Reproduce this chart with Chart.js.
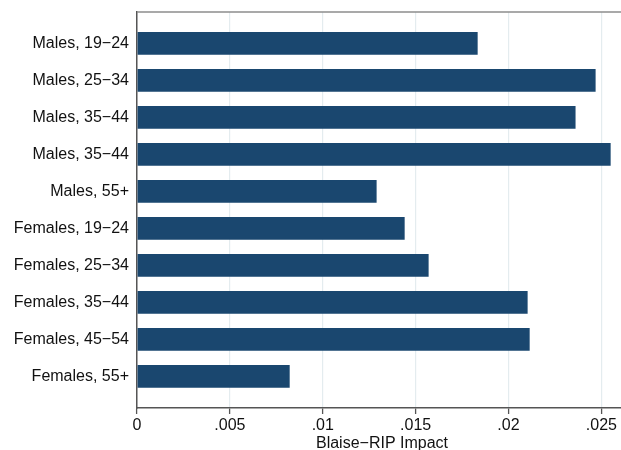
<!DOCTYPE html>
<html>
<head>
<meta charset="utf-8">
<script src="https://cdn.jsdelivr.net/npm/chart.js@4"></script>
<style>
  html, body { margin: 0; padding: 0; overflow: hidden; background: #ffffff; }
  canvas { display: block; }
</style>
</head>
<body>
<canvas id="chart" width="627" height="450"></canvas>
<script>
// Groups shown top to bottom
const categories = [
  'Males, 19−24', 'Males, 25−34', 'Males, 35−44', 'Males, 35−44', 'Males, 55+',
  'Females, 19−24', 'Females, 25−34', 'Females, 35−44', 'Females, 45−54', 'Females, 55+'
];
// Estimated impact per group
const impact = [0.01834, 0.02469, 0.02361, 0.02550, 0.01290, 0.01441, 0.01570, 0.02103, 0.02114, 0.00822];
// Value axis ticks
const xTicks = [0, 0.005, 0.01, 0.015, 0.02, 0.025];
const xTickLabels = ['0', '.005', '.01', '.015', '.02', '.025'];
const xTitle = 'Blaise−RIP Impact';

Chart.defaults.font.family = '"Liberation Sans", Arial, Helvetica, sans-serif';
Chart.defaults.font.size = 16;
Chart.defaults.color = '#111111';

// Thin grey rule along the top of the plot region
const topRule = {
  id: 'topRule',
  afterDatasetsDraw(chart) {
    const { ctx, chartArea } = chart;
    ctx.save();
    ctx.strokeStyle = '#8c8c8c';
    ctx.lineWidth = 1.3;
    ctx.beginPath();
    ctx.moveTo(chartArea.left, chartArea.top);
    ctx.lineTo(chartArea.right, chartArea.top);
    ctx.stroke();
    ctx.restore();
  }
};

new Chart(document.getElementById('chart'), {
  type: 'bar',
  data: {
    datasets: [{
      data: impact.map((v, i) => ({ x: v, y: i })),
      backgroundColor: '#1a476f',
      borderWidth: 0,
      barPercentage: 0.613,
      categoryPercentage: 1
    }]
  },
  options: {
    indexAxis: 'y',
    responsive: false,
    animation: false,
    layout: { padding: { top: 12, right: 0, bottom: 0, left: 0 } },
    plugins: {
      legend: { display: false },
      tooltip: { enabled: false }
    },
    scales: {
      x: {
        type: 'linear',
        position: 'bottom',
        min: 0,
        max: 0.02638,
        afterBuildTicks: (scale) => { scale.ticks = xTicks.map(v => ({ value: v })); },
        afterFit: (scale) => {
          scale.height = 42;
          scale.paddingLeft = 0;
          scale.paddingRight = 0;
        },
        ticks: {
          padding: 2,
          color: '#111111',
          callback: (value, index) => xTickLabels[index]
        },
        grid: {
          color: '#e4ecef',
          lineWidth: 1.2,
          drawTicks: true,
          tickLength: 6,
          tickColor: '#555555',
          tickWidth: 1.3
        },
        border: { display: true, color: '#555555', width: 1.5 },
        title: {
          display: true,
          text: xTitle,
          color: '#111111',
          font: { size: 16 },
          padding: { top: 0, bottom: -3 }
        }
      },
      y: {
        type: 'linear',
        reverse: true,
        offset: false,
        min: -0.846,
        max: 9.857,
        afterBuildTicks: (scale) => { scale.ticks = categories.map((_, i) => ({ value: i })); },
        afterFit: (scale) => {
          scale.width = 137;
          scale.paddingTop = 0;
          scale.paddingBottom = 0;
        },
        ticks: {
          padding: 8,
          color: '#111111',
          callback: (value) => categories[value]
        },
        grid: { display: false, drawTicks: false, offset: false },
        border: { display: true, color: '#555555', width: 1.5 }
      }
    }
  },
  plugins: [topRule]
});
</script>
</body>
</html>
